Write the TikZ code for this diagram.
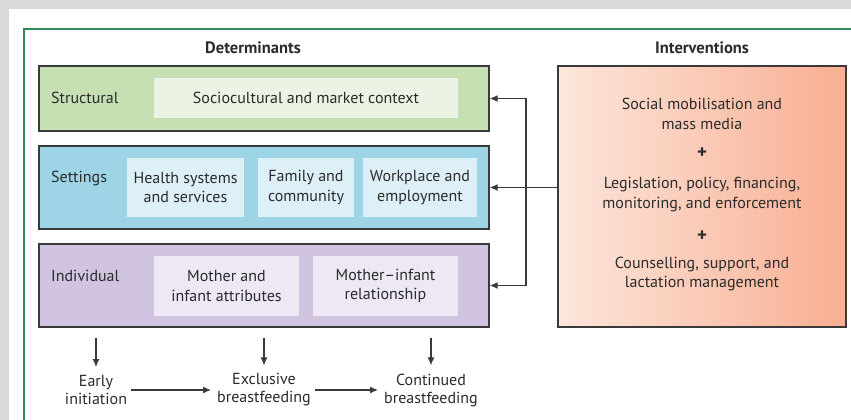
\documentclass[tikz,border=0pt]{standalone}
\usepackage{fontspec}
\setmainfont{PT Sans}
\usetikzlibrary{arrows.meta,positioning}
\definecolor{frameGreen}{HTML}{2E8B57}
\definecolor{pageGray}{HTML}{D9D9D9}
\definecolor{lineGray}{HTML}{3A3A3A}
\definecolor{txtGray}{HTML}{2B2B2B}
\definecolor{structFill}{HTML}{C6E0B4}
\definecolor{structInner}{HTML}{EAF3E4}
\definecolor{setFill}{HTML}{9DD5E6}
\definecolor{setInner}{HTML}{DEF0F7}
\definecolor{indFill}{HTML}{D1C4E0}
\definecolor{indInner}{HTML}{EDE8F4}
\definecolor{intLeft}{HTML}{FCE6DB}
\definecolor{intRight}{HTML}{F8AE92}
\tikzset{%
  >={Latex[width=7pt,length=8pt]},
  % Specifications for style of nodes:
           layer/.style = {rectangle, draw=lineGray, line width=1.3pt,
                           minimum width=450pt, inner sep=0pt},
      structural/.style = {layer, fill=structFill, minimum height=65pt},
        settings/.style = {layer, fill=setFill, minimum height=83pt},
      individual/.style = {layer, fill=indFill, minimum height=83pt},
        innerbox/.style = {rectangle, inner sep=0pt, align=center,
                           minimum height=59pt},
       layername/.style = {anchor=west, inner sep=0pt},
         heading/.style = {font=\fontsize{16.5}{19}\selectfont\bfseries},
         outcome/.style = {align=center, inner sep=0pt,
                           font=\fontsize{16}{18}\selectfont},
            plus/.style = {font=\fontsize{19}{19}\selectfont\bfseries},
            link/.style = {->, draw=lineGray, line width=1.3pt},
}

\begin{document}
\begin{tikzpicture}[x=1pt, y=-1pt, align=center,
    every node/.style={text=txtGray, font=\fontsize{16}{19.5}\selectfont}]
  % Background and frame
  \useasboundingbox (0,0) rectangle (851,420);
  \fill[pageGray] (0,0) rectangle (851,420);
  \fill[white] (9,9) rectangle (851,420);
  \draw[frameGreen, line width=1.2pt] (24,420) -- (24,29) -- (851,29);
  % Headings
  \node (detTitle) [heading] at (253,48) {Determinants};
  \node (intTitle) [heading] at (702,48) {Interventions};
  % Determinant layers
  \node (structural) [structural] at (264,98.5) {};
  \node (settings)   [settings]   at (264,187.5) {};
  \node (individual) [individual] at (264,285.5) {};
  \node (structName) [layername] at (51,98)  {Structural};
  \node (setName)    [layername] at (51,178) {Settings};
  \node (indName)    [layername] at (51,276) {Individual};
  \node (context)  [innerbox, fill=structInner, minimum width=304pt,
                    minimum height=40pt] at (306,98) {Sociocultural and market context};
  \node (health)   [innerbox, fill=setInner, minimum width=117pt] at (185.5,187.5)
                   {Health systems\\and services};
  \node (family)   [innerbox, fill=setInner, minimum width=96pt] at (306,187.5)
                   {Family and\\community};
  \node (work)     [innerbox, fill=setInner, minimum width=114pt] at (420,187.5)
                   {Workplace and\\employment};
  \node (attrib)   [innerbox, fill=indInner, minimum width=145pt, minimum height=60pt]
                   at (226.5,286) {Mother and\\infant attributes};
  \node (relation) [innerbox, fill=indInner, minimum width=145pt, minimum height=60pt]
                   at (385.5,286) {Mother--infant\\relationship};
  % Interventions
  \node (interventions) [rectangle, draw=lineGray, line width=1.3pt,
      left color=intLeft, right color=intRight, minimum width=288pt,
      minimum height=261pt] at (702,196.5) {};
  \node (mobil)  at (702,114)   {Social mobilisation and\\mass media};
  \node (plusA)  [plus] at (702,153) {+};
  \node (legis)  at (702,194.5) {Legislation, policy, financing,\\monitoring, and enforcement};
  \node (plusB)  [plus] at (702,236) {+};
  \node (couns)  at (702,274)   {Counselling, support, and\\lactation management};
  % Outcomes
  \node (early)     [outcome] at (96,390)  {Early\\initiation};
  \node (exclusive) [outcome] at (264,390) {Exclusive\\breastfeeding};
  \node (continued) [outcome] at (431,390) {Continued\\breastfeeding};
  % Connectors
  \coordinate (bus) at (526,187.5);
  \draw[link] (interventions.west |- settings.east) -- (settings.east);
  \draw[link] (bus) |- (structural.east);
  \draw[link] (bus) |- (individual.east);
  \foreach \o in {early, exclusive, continued}
    \draw[link, shorten <=10pt, shorten >=8pt] (individual.south -| \o.north) -- (\o.north);
  \draw[link, shorten <=4pt, shorten >=6pt] (early.east) -- (exclusive.west);
  \draw[link, shorten <=4pt, shorten >=6pt] (exclusive.east) -- (continued.west);
\end{tikzpicture}
\end{document}
